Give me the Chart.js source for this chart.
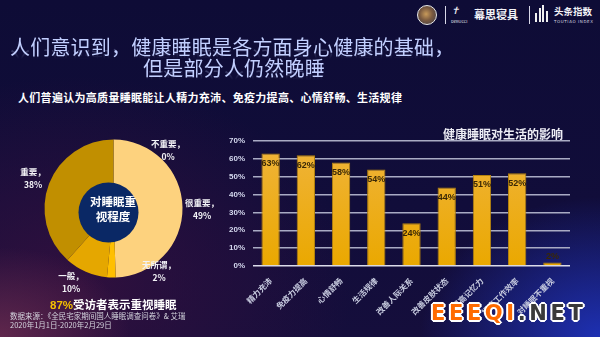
<!DOCTYPE html>
<html>
<head>
<meta charset="utf-8">
<script src="https://cdn.jsdelivr.net/npm/chart.js@4.4.1/dist/chart.umd.min.js"></script>
<style>
  html, body { margin: 0; padding: 0; }
  body {
    width: 600px; height: 337px; overflow: hidden; position: relative;
    font-family: "Noto Sans CJK SC", "Noto Sans", sans-serif;
    background:
      radial-gradient(ellipse 180px 140px at 100% 100%, rgba(30, 50, 185, 0.95), rgba(30, 50, 185, 0) 100%),
      radial-gradient(ellipse 130px 90px at 0% 100%, rgba(110, 45, 80, 0.8), rgba(110, 45, 80, 0) 100%),
      radial-gradient(ellipse 280px 210px at 12% 85%, rgba(50, 16, 62, 0.95), rgba(50, 16, 62, 0) 100%),
      linear-gradient(180deg, #0e0c36 0%, #110d3a 60%, #150e3c 100%);
  }
  .abs { position: absolute; white-space: nowrap; }
  .title {
    left: 10px; width: 440px; text-align: center; color: #c2cfff;
    font-size: 20px; line-height: 22px; letter-spacing: 0.2px;
    -webkit-box-reflect: below -10px linear-gradient(transparent 50%, rgba(255,255,255,0.3));
  }
  .sub { left: 18px; top: 89px; color: #ffffff; font-size: 11px; font-weight: 700; letter-spacing: 0.3px; }
  .lbl { color: #f2f2f6; font-size: 8.5px; font-weight: 700; transform: translate(-50%, -50%); line-height: 10px; }
  .center-txt { color: #ffffff; font-size: 11.5px; font-weight: 700; transform: translate(-50%, -50%); }
  .src { left: 10px; color: #d4d4de; font-size: 7.5px; line-height: 9px; }
  #donut { position: absolute; left: 0; top: 110px; }
  #bars { position: absolute; left: 220px; top: 120px; }
  .wm {
    left: 431px; top: 301px; font-family: "DejaVu Sans", sans-serif; font-weight: 700;
    font-size: 21px; letter-spacing: 3.6px;
    text-shadow: 0 0 2px #fff, 1px 1px 0 #fff, -1px -1px 0 #fff, 1px -1px 0 #fff, -1px 1px 0 #fff,
                 2px 0 0 #fff, -2px 0 0 #fff, 0 2px 0 #fff, 0 -2px 0 #fff;
  }
</style>
</head>
<body>
<script>
// 对睡眠重视程度（%）
const importanceLabels = ["很重要", "无所谓", "一般", "重要", "不重要"];
const importanceValues = [49, 2, 10, 38, 0];
const importanceColors = ["#fdd27e", "#ffbf00", "#e5a700", "#c18f00", "#f6d58e"];

// 健康睡眠对生活的影响（%）
const effectLabels = ["精力充沛", "免疫力提高", "心情舒畅", "生活规律", "改善人际关系", "改善皮肤状态", "提高记忆力", "提高工作效率", "对睡眠不重视"];
const effectValues = [63, 62, 58, 54, 24, 44, 51, 52, 2];
const yTicks = [0, 10, 20, 30, 40, 50, 60, 70];
</script>

<!-- header logos -->
<div class="abs" style="left:417px;top:5px;width:18px;height:18px;border-radius:50%;border:1.5px solid #e8e8e8;background:radial-gradient(circle at 45% 45%, #c89a5a 0%, #7a5a40 45%, #3a3a48 100%);"></div>
<div class="abs" style="left:445px;top:6px;width:1px;height:18px;background:#d8d8e8;"></div>
<div class="abs" style="left:451px;top:5px;color:#e8e8f0;font-size:10px;font-style:italic;font-family:'DejaVu Serif',serif;">&#x271D;</div>
<div class="abs" style="left:451px;top:18px;color:#e8e8f0;font-size:4px;">DeRUCCI</div>
<div class="abs" style="left:474px;top:6px;color:#f4f4f8;font-size:11px;font-weight:700;">幕思寝具</div>
<div class="abs" style="left:529px;top:6px;width:1px;height:18px;background:#d8d8e8;"></div>
<div class="abs" style="left:535px;top:13px;width:2px;height:9px;background:#f0f0f0;"></div>
<div class="abs" style="left:538.5px;top:8px;width:2px;height:14px;background:#f0f0f0;"></div>
<div class="abs" style="left:542px;top:5px;width:2px;height:17px;background:#f0f0f0;"></div>
<div class="abs" style="left:545.5px;top:11px;width:2px;height:11px;background:#f0f0f0;"></div>
<div class="abs" style="left:554px;top:4px;color:#f4f4f8;font-size:9.5px;font-weight:700;">头条指数</div>
<div class="abs" style="left:554px;top:19px;color:#d8d8e0;font-size:4px;letter-spacing:0.6px;font-family:'DejaVu Sans',sans-serif;">TOUTIAO INDEX</div>

<!-- titles -->
<div class="abs title" style="top:36px;">人们意识到，健康睡眠是各方面身心健康的基础，</div>
<div class="abs title" style="top:57px;left:14px;">但是部分人仍然晚睡</div>
<div class="abs sub">人们普遍认为高质量睡眠能让人精力充沛、免疫力提高、心情舒畅、生活规律</div>

<canvas id="donut" width="230" height="200"></canvas>
<canvas id="bars" width="370" height="200"></canvas>

<div class="abs center-txt" style="left:113px;top:201px;">对睡眠重</div>
<div class="abs center-txt" style="left:113px;top:216px;">视程度</div>
<div id="donutLabels"></div>

<div class="abs" style="left:443px;top:125px;color:#ececf4;font-size:12px;font-weight:700;">健康睡眠对生活的影响</div>

<div class="abs" style="left:50px;top:296px;font-size:11.5px;font-weight:700;color:#ffffff;"><span style="color:#f5c000;font-family:'Liberation Sans',sans-serif;">87%</span>受访者表示重视睡眠</div>
<div class="abs src" style="top:311px;">数据来源：《全民宅家期间国人睡眠调查问卷》&amp; 艾瑞</div>
<div class="abs src" style="top:320px;">2020年1月1日-2020年2月29日</div>

<div class="abs wm"><span style="color:#ff6a00;">EEEQI</span><span style="color:#3a3a3a;">.NET</span></div>

<script>
// label text anchors around the ring (page coords)
const donutLabelPos = [[202, 202], [159, 264], [71, 275], [33, 171], [168, 143]];
const holder = document.getElementById("donutLabels");
importanceLabels.forEach((name, i) => {
    const [x, y] = donutLabelPos[i];
    const a = document.createElement("div");
    a.className = "abs lbl";
    a.style.left = x + "px"; a.style.top = y + "px";
    a.textContent = name + "，";
    const b = document.createElement("div");
    b.className = "abs lbl";
    b.style.left = x + "px"; b.style.top = (y + 13) + "px";
    b.textContent = importanceValues[i] + "%";
    holder.appendChild(a); holder.appendChild(b);
});

// navy disc drawn on top of the pie
const centerDisc = {
    id: "centerDisc",
    afterDatasetsDraw(chart) {
        const arc = chart.getDatasetMeta(0).data[0];
        const ctx = chart.ctx;
        ctx.save();
        ctx.beginPath();
        ctx.arc(arc.x - 5, arc.y + 4, 30, 0, Math.PI * 2);
        ctx.fillStyle = "#0a2865";
        ctx.fill();
        ctx.restore();
    }
};

new Chart(document.getElementById("donut"), {
    type: "pie",
    data: {
        labels: importanceLabels,
        datasets: [{
            data: importanceValues,
            backgroundColor: importanceColors,
            borderWidth: 0
        }]
    },
    options: {
        responsive: false,
        animation: false,
        layout: { padding: { left: 44.5, right: 47.5, top: 29.5, bottom: 32.5 } },
        plugins: { legend: { display: false }, tooltip: { enabled: false } }
    },
    plugins: [centerDisc]
});

// value labels on bars
const barValues = {
    id: "barValues",
    afterDatasetsDraw(chart) {
        const ctx = chart.ctx;
        const meta = chart.getDatasetMeta(0);
        ctx.save();
        ctx.font = "bold 9px 'Liberation Sans', sans-serif";
        ctx.textAlign = "center";
        ctx.textBaseline = "middle";
        meta.data.forEach((bar, i) => {
            const v = effectValues[i];
            const y = v > 10 ? bar.y + 10 : bar.y - 6;
            ctx.fillStyle = "#3a2806";
            ctx.fillText(v + "%", bar.x, y);
        });
        ctx.restore();
    }
};

const barCtx = document.getElementById("bars").getContext("2d");
const barFill = barCtx.createLinearGradient(0, 21, 0, 146);
barFill.addColorStop(0, "#f0b43c");
barFill.addColorStop(1, "#eaa800");

new Chart(barCtx, {
    type: "bar",
    data: {
        labels: effectLabels,
        datasets: [{
            data: effectValues,
            backgroundColor: barFill,
            borderColor: "#b4820e",
            borderWidth: 1,
            barPercentage: 0.52,
            categoryPercentage: 1
        }]
    },
    options: {
        responsive: false,
        animation: false,
        layout: { padding: { left: 0, right: 20, top: 21, bottom: 0 } },
        plugins: { legend: { display: false }, tooltip: { enabled: false } },
        scales: {
            x: {
                grid: { display: false },
                border: { display: false },
                ticks: {
                    autoSkip: false,
                    maxRotation: 45,
                    minRotation: 45,
                    padding: 2,
                    color: "#c8cce0",
                    font: { size: 8, family: "'Noto Sans CJK SC', sans-serif", weight: "bold" }
                },
                afterFit(scale) { scale.height = 54; }
            },
            y: {
                min: 0,
                max: 70,
                afterBuildTicks(scale) { scale.ticks = yTicks.map(v => ({ value: v })); },
                border: { display: false },
                grid: {
                    drawTicks: false,
                    lineWidth: 1.5,
                    color: c => c.tick.value === 0 ? "#dcdcea" : "#a9abc4"
                },
                ticks: {
                    padding: 8,
                    color: "#d6daf0",
                    font: { size: 8, family: "'Liberation Sans', sans-serif", weight: "bold" },
                    callback: v => v + "%"
                },
                afterFit(scale) { scale.width = 33; }
            }
        }
    },
    plugins: [barValues]
});
</script>
</body>
</html>
